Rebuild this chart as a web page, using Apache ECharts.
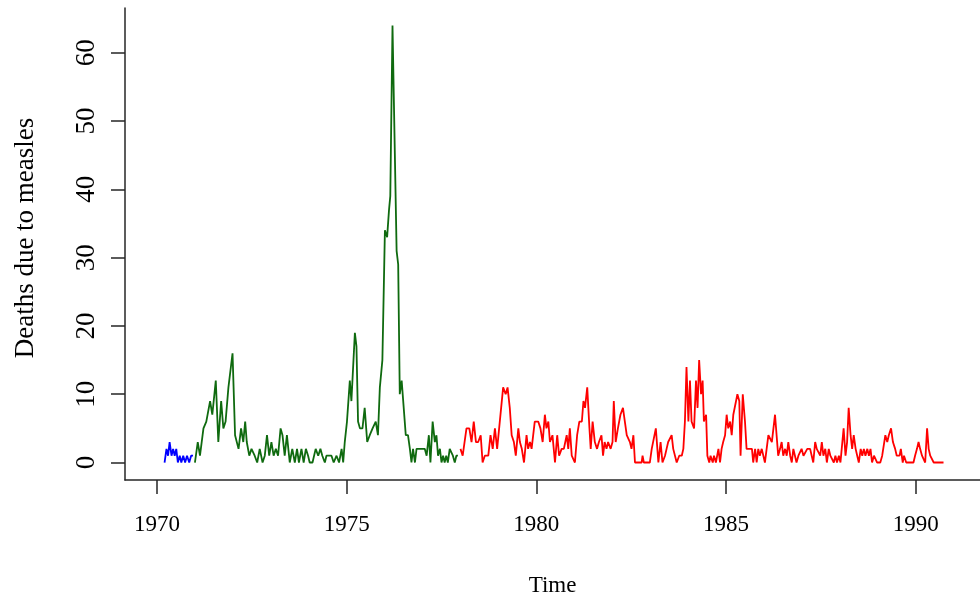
<!DOCTYPE html>
<html>
<head>
<meta charset="utf-8">
<script src="https://cdn.jsdelivr.net/npm/echarts@6/dist/echarts.min.js"></script>
<style>
  html, body { margin: 0; padding: 0; background: #ffffff; }
  #chart { width: 980px; height: 602px; }
</style>
</head>
<body>
<div id="chart"></div>
<script>
// ---- Data ----
// Each entry: [months after the segment start year, deaths due to measles]
const blueStartYear = 1970;
const blueMonthDeaths = [[2.4,0],[3.0,2],[3.5,1],[4.0,3],[4.6,1],[5.1,2],[5.6,1],[6.1,2],[6.6,0],[7.2,1],[7.7,0],[8.3,1],[8.9,0],[9.5,1],[10.2,0],[10.8,1],[11.4,1]];

const greenStartYear = 1971;
const greenMonthDeaths = [[0,0],[0.9,3],[1.6,1],[2.7,5],[3.6,6],[4.8,9],[5.5,7],[6.6,12],[7.4,3],[8.3,9],[9.0,5],[9.7,6],[10.6,11],[11.9,16],[12.7,4],[13.8,2],[14.6,5],[15.3,3],[15.9,6],[16.4,3],[17.2,1],[17.9,2],[18.9,1],[19.7,0],[20.5,2],[21.4,0],[22.1,1],[22.8,4],[23.5,1],[24.2,3],[24.9,1],[25.6,2],[26.3,1],[27.1,5],[27.7,4],[28.4,1],[29.1,4],[30.0,0],[30.8,2],[31.6,0],[32.3,2],[32.9,0],[33.7,2],[34.4,0],[35.1,2],[35.8,1],[36.3,0],[37.2,0],[38.2,2],[39.0,1],[39.7,2],[40.3,1],[41.1,0],[41.6,1],[42.4,1],[43.2,1],[43.9,0],[44.8,1],[45.6,0],[46.4,2],[46.9,0],[47.4,3],[48.1,6],[49.0,12],[49.5,9],[50.6,19],[51.1,17],[51.6,6],[52.2,5],[53.0,5],[53.7,8],[54.5,3],[55.3,4],[56.2,5],[57.2,6],[57.9,4],[58.5,11],[59.3,15],[60.1,34],[60.8,33],[61.4,37],[61.8,39],[62.5,64],[63.8,31],[64.3,29],[64.8,10],[65.4,12],[65.9,12],[66.7,4],[67.4,4],[68.0,2],[68.5,0],[69.0,2],[69.6,0],[70.1,2],[71.0,2],[71.9,2],[72.7,2],[73.3,1],[74.0,4],[74.5,0],[75.2,6],[75.9,3],[76.4,4],[76.9,1],[77.5,2],[78.0,0],[78.5,1],[79.0,0],[79.5,1],[80.0,0],[80.6,2],[81.1,2],[81.6,1],[82.2,0],[82.7,1],[83.2,1]];

const redStartYear = 1978;
const redMonthDeaths = [[0,2],[0.7,1],[1.9,5],[2.8,5],[3.5,3],[4.2,6],[4.9,3],[5.6,3],[6.4,4],[7.0,0],[7.7,1],[8.8,1],[9.5,4],[10.2,2],[10.9,5],[11.6,2],[13.5,11],[14.3,10],[14.9,11],[15.6,8],[16.2,4],[16.9,3],[17.5,1],[18.3,5],[18.8,3],[19.4,2],[20.1,0],[20.9,4],[21.4,2],[22.0,3],[22.5,2],[23.5,6],[24.6,6],[25.3,5],[26.0,3],[26.7,7],[27.2,5],[27.8,6],[28.3,3],[29.1,4],[29.9,0],[30.6,4],[31.2,1],[32.0,2],[32.7,2],[33.6,4],[34.1,2],[34.6,5],[35.2,1],[36.2,0],[36.9,4],[37.6,6],[38.4,6],[38.9,9],[39.4,8],[40.1,11],[40.8,5],[41.2,2],[41.8,6],[42.5,3],[43.2,2],[43.8,3],[44.6,4],[45.1,1],[45.6,3],[46.2,2],[46.7,3],[47.5,2],[48.1,3],[48.5,9],[49.1,3],[49.8,5],[50.6,7],[51.4,8],[52.0,6],[52.6,4],[53.1,4],[53.6,3],[54.1,2],[54.7,4],[55.2,0],[57.3,0],[57.6,1],[58.0,0],[59.9,0],[60.5,2],[61.0,2],[61.8,5],[62.6,0],[63.3,3],[63.9,0],[64.7,1],[65.2,2],[65.7,3],[66.3,3],[66.8,4],[67.3,2],[67.8,2],[68.4,0],[69.2,1],[70.0,1],[70.5,2],[71.0,6],[71.5,14],[72.1,6],[72.6,12],[73.1,6],[73.9,5],[74.5,12],[75.0,8],[75.5,15],[76.1,10],[76.6,12],[77.0,6],[77.7,7],[78.1,1],[78.7,0],[79.1,1],[79.8,0],[80.2,1],[80.8,0],[81.6,2],[82.1,0],[82.6,2],[83.1,3],[83.7,4],[84.2,7],[84.7,5],[85.3,6],[85.8,4],[86.3,7],[86.8,7],[87.6,10],[88.2,9],[88.6,1],[89.3,10],[90.0,6],[90.5,2],[91.5,2],[92.2,2],[92.6,0],[93.2,2],[93.7,0],[94.2,2],[94.7,1],[95.3,2],[95.8,2],[96.3,0],[96.9,0],[97.4,4],[97.9,4],[98.5,3],[99.0,3],[99.5,7],[100.0,4],[100.5,1],[101.1,2],[101.6,3],[102.1,1],[102.7,2],[103.2,1],[103.7,3],[104.3,1],[104.8,0],[105.3,2],[105.8,1],[106.3,0],[106.9,1],[107.9,2],[108.5,1],[109.0,1],[109.7,2],[110.6,2],[111.1,1],[111.6,0],[112.2,3],[112.7,2],[113.2,2],[113.8,1],[114.3,3],[114.8,1],[115.4,2],[115.9,0],[116.5,2],[117.0,1],[117.5,1],[118.1,0],[118.6,1],[119.1,0],[119.7,1],[120.2,0],[120.7,0],[121.2,5],[121.8,1],[122.3,3],[122.8,8],[123.4,4],[123.9,2],[124.4,4],[125.0,2],[125.5,1],[126.0,0],[126.6,2],[127.1,1],[127.6,2],[128.1,1],[128.7,2],[129.2,1],[129.7,2],[130.2,0],[130.8,1],[131.3,1],[131.8,0],[132.8,0],[133.4,1],[133.9,1],[134.4,4],[135.0,3],[135.5,4],[136.2,5],[136.8,3],[137.5,2],[138.0,1],[138.9,1],[139.3,2],[139.9,0],[140.3,1],[141.0,0],[143.3,0],[143.8,1],[144.4,2],[144.9,3],[145.4,2],[146.0,1],[146.5,1],[147.0,0],[147.6,5],[148.1,2],[148.6,1],[149.2,1],[149.7,0],[152.8,0]];

const xTicks = [1970, 1975, 1980, 1985, 1990];
const yTicks = [0, 10, 20, 30, 40, 50, 60];
const xTitle = 'Time';
const yTitle = 'Deaths due to measles';

// ---- Build ----
const toYears = (start, pts) => pts.map(p => [start + p[0] / 12, p[1]]);

const FONT = '"Liberation Serif", "DejaVu Serif", serif';
const AXIS_COLOR = '#262626';

const chart = echarts.init(document.getElementById('chart'), null, { renderer: 'canvas' });

const lineSeries = (data, color) => ({
  type: 'line',
  data: data,
  showSymbol: false,
  symbol: 'none',
  lineStyle: { color: color, width: 1.8 },
  itemStyle: { color: color },
  silent: true,
  animation: false
});

chart.setOption({
  backgroundColor: '#ffffff',
  animation: false,
  grid: { left: 125, top: 8, right: 0, height: 473, containLabel: false },
  xAxis: {
    type: 'value',
    min: 1969.157,
    max: 1991.695,
    name: xTitle,
    nameLocation: 'middle',
    nameGap: 94,
    nameTextStyle: { fontFamily: FONT, fontSize: 23, color: '#000' },
    axisLine: { show: true, onZero: false, lineStyle: { color: AXIS_COLOR, width: 1.5 } },
    axisTick: { show: true, length: 14, lineStyle: { color: AXIS_COLOR, width: 1.5 }, customValues: xTicks },
    axisLabel: {
      show: true, margin: 33, fontFamily: FONT, fontSize: 23, color: '#000',
      customValues: xTicks, formatter: v => String(v)
    },
    splitLine: { show: false }
  },
  yAxis: {
    type: 'value',
    min: -2.56,
    max: 66.56,
    name: yTitle,
    nameLocation: 'middle',
    nameGap: 86,
    nameRotate: 90,
    nameTextStyle: { fontFamily: FONT, fontSize: 27, color: '#000', padding: [0, 0, 0, 12] },
    axisLine: { show: true, onZero: false, lineStyle: { color: AXIS_COLOR, width: 1.5 } },
    axisTick: { show: true, length: 14, lineStyle: { color: AXIS_COLOR, width: 1.5 }, customValues: yTicks },
    axisLabel: {
      show: true, margin: 25, rotate: 90, fontFamily: FONT, fontSize: 27, color: '#000',
      customValues: yTicks, formatter: v => String(v)
    },
    splitLine: { show: false }
  },
  series: [
    lineSeries(toYears(blueStartYear, blueMonthDeaths), '#0000ff'),
    lineSeries(toYears(greenStartYear, greenMonthDeaths), '#0f6a0f'),
    lineSeries(toYears(redStartYear, redMonthDeaths), '#ff0000')
  ]
});
</script>
</body>
</html>
